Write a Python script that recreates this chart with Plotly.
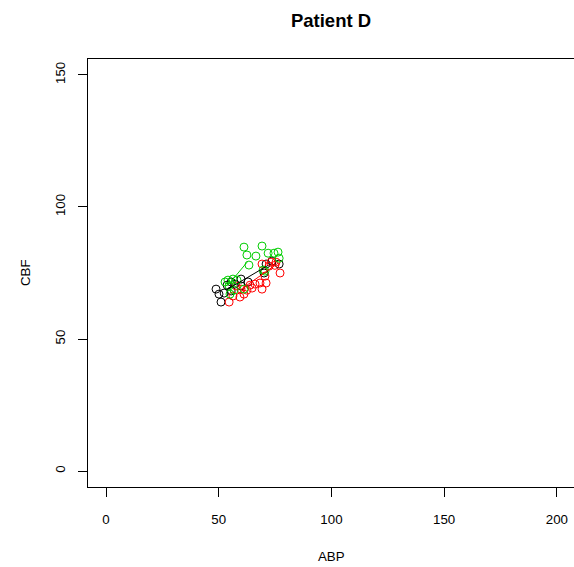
import plotly.graph_objects as go

# Black group
black_abp = [48.8, 50.1, 51.0, 52.4, 53.7, 55.5, 57.2, 59.9, 59.9, 63.0, 71.0, 73.6, 76.8, 70.1, 55.5]
black_cbf = [68.9, 67.0, 64.0, 67.4, 70.4, 68.2, 70.8, 72.7, 70.1, 71.6, 78.4, 79.5, 78.4, 75.0, 71.6]
# Green group
green_abp = [61.2, 69.2, 62.5, 66.5, 71.9, 74.5, 76.3, 76.8, 63.4, 69.7, 54.1, 56.3, 58.1, 52.8, 54.6, 55.0, 56.8, 70.5, 61.2]
green_cbf = [84.8, 85.2, 81.8, 81.4, 82.5, 82.5, 82.9, 80.6, 78.0, 76.1, 72.3, 72.7, 72.3, 71.6, 70.1, 67.0, 68.5, 75.7, 68.9]
# Red group
red_abp = [69.2, 73.2, 75.4, 77.2, 70.5, 68.3, 69.2, 66.1, 63.9, 61.2, 59.4, 59.9, 57.7, 62.5, 54.6, 56.3, 72.3, 74.9, 64.8, 71.0]
red_cbf = [78.4, 79.1, 79.1, 75.0, 73.8, 71.2, 68.9, 70.8, 70.4, 67.0, 65.9, 68.9, 70.1, 68.5, 64.0, 66.3, 77.6, 77.9, 69.3, 71.2]

# Fitted line endpoints
black_line_abp = [53.2, 71.9]
black_line_cbf = [68.5, 77.9]
green_line_abp = [54.1, 62.6]
green_line_cbf = [70.4, 79.1]
red_line_abp = [59.4, 76.3]
red_line_cbf = [68.5, 78.7]

x_ticks = [0, 50, 100, 150, 200]
y_ticks = [0, 50, 100, 150]

GREEN = "#00CD00"
fig = go.Figure()
for xs, ys, col in [(black_abp, black_cbf, "black"), (red_abp, red_cbf, "red"), (green_abp, green_cbf, GREEN)]:
    fig.add_trace(go.Scatter(x=xs, y=ys, mode="markers",
                             marker=dict(symbol="circle-open", size=8, color=col, line=dict(width=1, color=col)),
                             showlegend=False))
for xs, ys, col in [(black_line_abp, black_line_cbf, "black"), (red_line_abp, red_line_cbf, "red"), (green_line_abp, green_line_cbf, GREEN)]:
    fig.add_trace(go.Scatter(x=xs, y=ys, mode="lines", line=dict(color=col, width=1), showlegend=False))

font = dict(family="Liberation Sans, Arial, sans-serif", size=13.3, color="black")
fig.update_layout(
    width=574, height=567,
    margin=dict(l=88, r=0, t=59, b=80),
    plot_bgcolor="white", paper_bgcolor="white",
    font=font,
    title=dict(text="<b>Patient D</b>", x=0.5767, xanchor="center", y=1 - 21 / 567, yanchor="middle",
               font=dict(family="Liberation Sans, Arial, sans-serif", size=18.5, color="black")),
    xaxis=dict(range=[-8, 207.6], tickvals=x_ticks, showgrid=False, zeroline=False,
               showline=True, linecolor="black", linewidth=1, mirror=True,
               ticks="outside", ticklen=9, tickcolor="black", ticklabelstandoff=11),
    yaxis=dict(range=[-6, 156], tickvals=y_ticks, showgrid=False, zeroline=False,
               showline=True, linecolor="black", linewidth=1, mirror=True,
               ticks="outside", ticklen=9, tickcolor="black", tickangle=-90, ticklabelstandoff=8),
    annotations=[
        dict(text="ABP", xref="paper", yref="paper", x=0.5, y=0, yanchor="middle", xanchor="center",
             yshift=-69, showarrow=False, font=font),
        dict(text="CBF", xref="paper", yref="paper", x=0, y=0.5, xanchor="center", yanchor="middle",
             xshift=-63, textangle=-90, showarrow=False, font=font),
    ],
)
fig.write_html("out.html")
